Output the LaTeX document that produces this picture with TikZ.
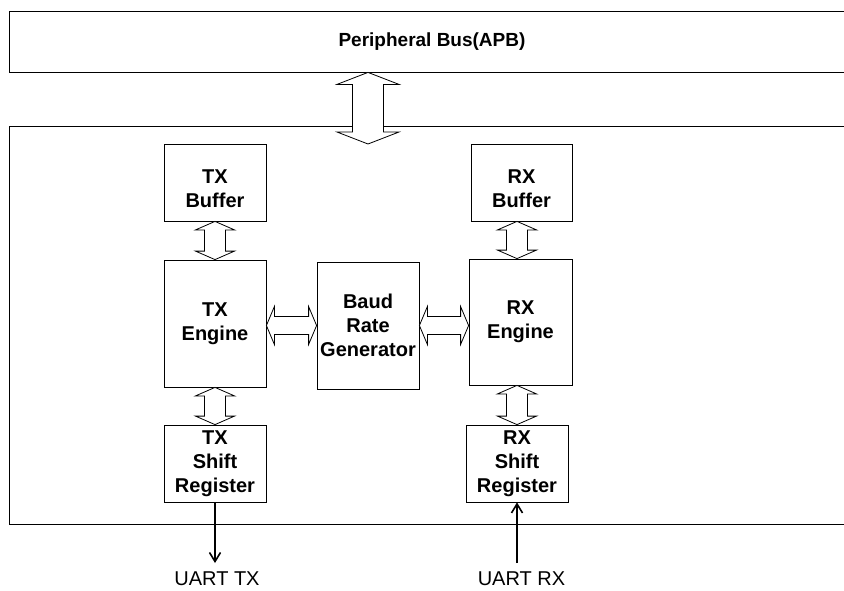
\documentclass[tikz,border=0pt]{standalone}
\usepackage{fontspec}
\setmainfont{Liberation Sans}
\usetikzlibrary{calc,arrows.meta}

% vertical double arrow: top end, bottom end, half shaft, half head, head length
\newcommand{\vlink}[5]{%
  \draw[link] let \p1=(#1), \p2=(#2) in
  (\x1,\y1) -- (\x1+#4,\y1-#5) -- (\x1+#3,\y1-#5) -- (\x2+#3,\y2+#5)
  -- (\x2+#4,\y2+#5) -- (\x2,\y2) -- (\x2-#4,\y2+#5) -- (\x2-#3,\y2+#5)
  -- (\x1-#3,\y1-#5) -- (\x1-#4,\y1-#5) -- cycle;}
% horizontal double arrow: left end, right end, half shaft, half head, head length
\newcommand{\hlink}[5]{%
  \draw[link] let \p1=(#1), \p2=(#2) in
  (\x1,\y1) -- (\x1+#5,\y1+#4) -- (\x1+#5,\y1+#3) -- (\x2-#5,\y2+#3)
  -- (\x2-#5,\y2+#4) -- (\x2,\y2) -- (\x2-#5,\y2-#4) -- (\x2-#5,\y2-#3)
  -- (\x1+#5,\y1-#3) -- (\x1+#5,\y1-#4) -- cycle;}

\begin{document}
\begin{tikzpicture}[x=1pt, y=-1pt, line width=0.8pt,
    block/.style={draw, align=center, inner sep=1pt,
      font=\bfseries\fontsize{20}{24}\selectfont},
    link/.style={draw, fill=white, line width=0.8pt, line join=miter},
    pin/.style={line width=1.6pt, -{Straight Barb[length=9pt, width=11pt]}},
    pinlabel/.style={inner sep=0pt, outer sep=9pt, font=\fontsize{20}{24}\selectfont}]
        \useasboundingbox (0,0) rectangle (844,590);

        % bus and controller frames (open to the right)
        \node[minimum width=844pt, minimum height=60pt, inner sep=0pt,
        font=\bfseries\fontsize{19}{23}\selectfont]
        (apb) at (432,42) {Peripheral Bus(APB)};
        \draw (apb.north east) -- (apb.north west) -- (apb.south west) -- (apb.south east);
        \node[minimum width=844pt, minimum height=397pt, inner sep=0pt]
        (ctrl) at (432,325.5) {};
        \draw (ctrl.north east) -- (ctrl.north west) -- (ctrl.south west) -- (ctrl.south east);

        \node[block, minimum width=102pt, minimum height=77pt]
        (txbuf) at (215,182.5) {\rule{0pt}{26pt}TX\\Buffer};
        \node[block, minimum width=102pt, minimum height=127pt]
        (txeng) at (215,323.5) {TX\\Engine};
        \node[block, minimum width=102pt, minimum height=77pt]
        (txsr) at (215,463.5) {TX\\Shift\\Register};
        \node[block, minimum width=102pt, minimum height=127pt]
        (baud) at (368,325.5) {Baud\\Rate\\Generator};
        \node[block, minimum width=101pt, minimum height=77pt]
        (rxbuf) at (521.5,182.5) {\rule{0pt}{26pt}RX\\Buffer};
        \node[block, minimum width=103pt, minimum height=126pt]
        (rxeng) at (520.5,322) {RX\\Engine};
        \node[block, minimum width=102pt, minimum height=77pt]
        (rxsr) at (517,463.5) {RX\\Shift\\Register};

        % bus link
        \coordinate (busend) at (368,144);
        \vlink{apb.south -| busend}{busend}{15.5pt}{31pt}{12pt}

        \vlink{txbuf.south}{txeng.north}{10.5pt}{19.5pt}{8.5pt}
        \vlink{txeng.south}{txsr.north}{10.5pt}{19.5pt}{8.5pt}
        \vlink{rxbuf.south -| rxsr}{rxeng.north -| rxsr}{10.5pt}{19.5pt}{8.5pt}
        \vlink{rxeng.south -| rxsr}{rxsr.north}{10.5pt}{19.5pt}{8.5pt}
        \hlink{txeng.east |- baud}{baud.west}{9pt}{19pt}{8pt}
        \hlink{baud.east}{rxeng.west |- baud}{9pt}{19pt}{8pt}

        % serial lines
        \node[pinlabel] (uarttx) at (217,579) {UART TX};
        \node[pinlabel] (uartrx) at (521.5,579) {UART RX};
        \draw[pin] (txsr.south) -- (txsr.south |- uarttx.north);
        \draw[pin] (rxsr.south |- uartrx.north) -- (rxsr.south);
    \end{tikzpicture}
\end{document}
